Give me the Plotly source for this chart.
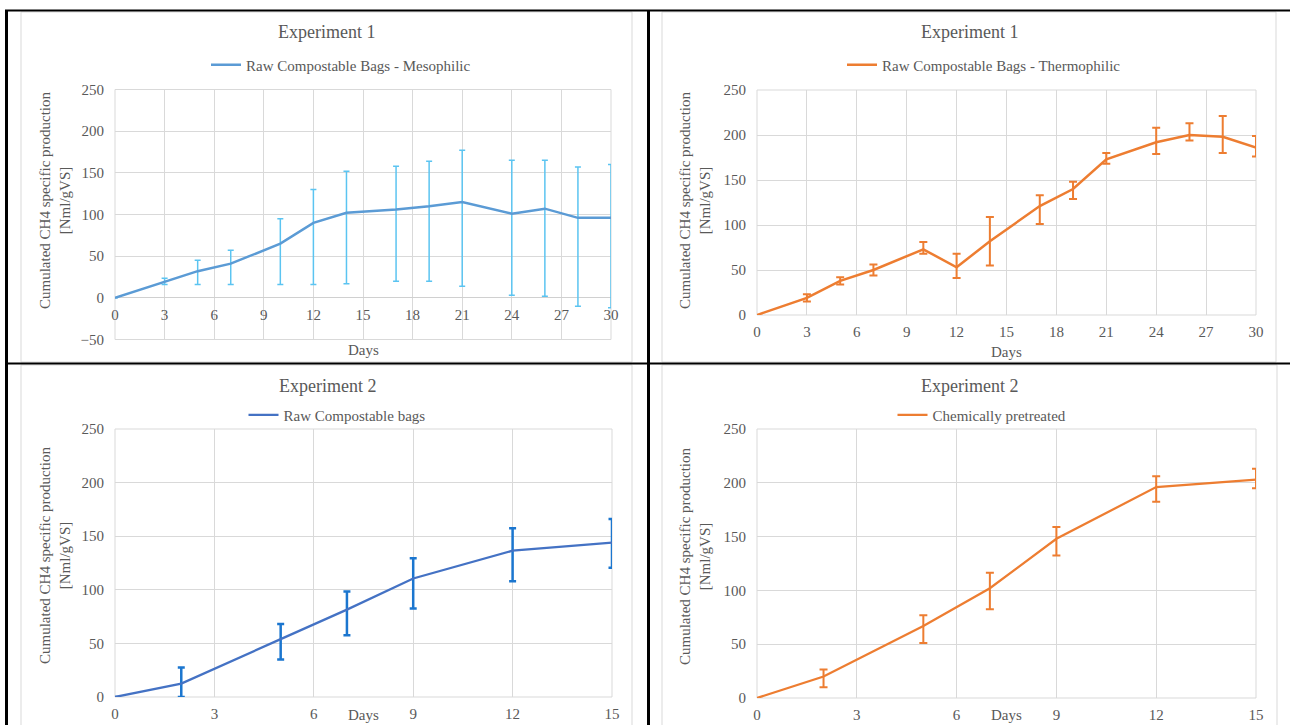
import plotly.graph_objects as go

W, H = 1290, 725
FONT = "Liberation Serif"
TXT = "#595959"
GRID = "#D9D9D9"

# ---------------- data ----------------
days_exp1 = [0, 3, 5, 7, 10, 12, 14, 17, 19, 21, 24, 26, 28, 30]
meso = [0, 19, 32, 41, 65, 90, 102, 106, 110, 115, 101, 107, 96, 96]
meso_err_plus = [0, 4.5, 13, 16, 30, 40, 50, 52, 54, 62, 64, 58, 61, 64]
meso_err_minus = [0, 3, 16, 25, 49, 74, 85, 86, 90, 101, 98, 105, 106, 108]

thermo = [0, 19, 38, 50, 73, 53, 82, 121, 140, 173, 192, 200, 198, 186]
thermo_err_plus = [0, 4, 4, 6, 8, 15, 27, 12, 8, 7, 16, 13, 23, 13]
thermo_err_minus = [0, 4, 4, 6, 5, 12, 27, 20, 11, 5, 13, 6, 18, 10]

days_exp2 = [0, 2, 5, 7, 9, 12, 15]
raw_bags = [0, 12.5, 54, 81.5, 110.5, 136.5, 144]
raw_err_plus = [0, 15, 14, 17, 19, 21, 22]
raw_err_minus = [0, 12.5, 19, 24, 28, 28.5, 23.5]

chem = [0, 20, 67, 102, 148, 196, 203]
chem_err_plus = [0, 6.5, 10, 14.5, 11, 10, 10]
chem_err_minus = [0, 10, 16, 19.5, 15.5, 13.5, 8]

titles = ["Experiment 1", "Experiment 1", "Experiment 2", "Experiment 2"]
series_names = ["Raw Compostable Bags - Mesophilic", "Raw Compostable Bags - Thermophilic",
                "Raw Compostable bags", "Chemically pretreated"]
y_title = "Cumulated CH4 specific production<br>[Nml/gVS]"
x_title = "Days"


def fx(px):
    return px / W


def fy(py):
    return 1 - py / H


fig = go.Figure()

# panel geometry in pixels: plot area left, right, top, bottom
panels = [
    dict(l=115, r=611, t=89.5, b=339.5, yr=[-50, 250], xr=[0, 30]),
    dict(l=757, r=1256, t=90, b=315, yr=[0, 250], xr=[0, 30]),
    dict(l=115, r=612, t=429, b=697, yr=[0, 250], xr=[0, 15]),
    dict(l=757, r=1256, t=429, b=698, yr=[0, 250], xr=[0, 15]),
]

traces = [
    (days_exp1, meso, meso_err_plus, meso_err_minus, "#5B9BD5", 2.5, "#5BC4F1", 1.5, 3),
    (days_exp1, thermo, thermo_err_plus, thermo_err_minus, "#ED7D31", 2.5, "#ED7D31", 2, 4),
    (days_exp2, raw_bags, raw_err_plus, raw_err_minus, "#4472C4", 2.25, "#1B76CF", 2.5, 3.5),
    (days_exp2, chem, chem_err_plus, chem_err_minus, "#ED7D31", 2.25, "#ED7D31", 2, 4),
]

tickfont = dict(family=FONT, size=15, color=TXT)
layout_axes = {}
for i, (p, tr) in enumerate(zip(panels, traces)):
    n = "" if i == 0 else str(i + 1)
    xs, ys, ep, em, lc, lw, ec, et, ew = tr
    fig.add_trace(go.Scatter(
        x=xs, y=ys, mode="lines", name=series_names[i],
        line=dict(color=lc, width=lw),
        error_y=dict(type="data", symmetric=False, array=ep, arrayminus=em,
                     color=ec, thickness=et, width=ew),
        xaxis="x" + n, yaxis="y" + n, legend="legend" + n,
        hoverinfo="x+y",
    ))
    xa = dict(domain=[fx(p["l"]), fx(p["r"])], range=p["xr"], dtick=3, tick0=0,
              showgrid=True, gridcolor=GRID, gridwidth=1, zeroline=False,
              showline=False, ticks="", tickfont=tickfont, ticklabelstandoff=6,
              fixedrange=True, automargin=False)
    ya = dict(domain=[fy(p["b"]), fy(p["t"])], range=p["yr"], dtick=50, tick0=0,
              showgrid=True, gridcolor=GRID, gridwidth=1, zeroline=False,
              showline=False, ticks="", tickfont=tickfont, ticklabelstandoff=10,
              anchor="x" + n, fixedrange=True, automargin=False)
    if i == 0:
        # Excel places category labels where the value axis crosses 0
        zero_px = p["b"] - (0 - p["yr"][0]) / (p["yr"][1] - p["yr"][0]) * (p["b"] - p["t"])
        xa.update(anchor="free", position=fy(zero_px))
        ya.update(zeroline=True, zerolinecolor="#D0D0D0", zerolinewidth=1)
    else:
        xa.update(anchor="y" + n)
    layout_axes["xaxis" + n] = xa
    layout_axes["yaxis" + n] = ya

fig.update_layout(**layout_axes)

# legends
legend_pos = [(341, 65), (984, 65), (337, 415), (982, 415)]
for i, (lx, ly) in enumerate(legend_pos):
    n = "" if i == 0 else str(i + 1)
    fig.update_layout(**{"legend" + n: dict(
        x=fx(lx), y=fy(ly), xanchor="center", yanchor="middle",
        orientation="h", font=dict(family=FONT, size=15, color=TXT),
        bgcolor="rgba(0,0,0,0)", itemclick=False, itemdoubleclick=False)})

annotations = []
title_pos = [(326, 32), (969, 32), (327, 386), (969, 386)]
ytitle_pos = [(55, 200), (695, 200), (55, 555), (695, 556)]
xtitle_pos = [(363, 350), (1006, 352), (363, 715), (1006, 715)]
for i in range(4):
    annotations.append(dict(text=titles[i], x=fx(title_pos[i][0]), y=fy(title_pos[i][1]),
                            xref="paper", yref="paper", showarrow=False,
                            xanchor="center", yanchor="middle",
                            font=dict(family=FONT, size=18, color=TXT)))
    annotations.append(dict(text=y_title, x=fx(ytitle_pos[i][0]), y=fy(ytitle_pos[i][1]),
                            xref="paper", yref="paper", showarrow=False, textangle=-90,
                            xanchor="center", yanchor="middle",
                            font=dict(family=FONT, size=15, color=TXT)))
    annotations.append(dict(text=x_title, x=fx(xtitle_pos[i][0]), y=fy(xtitle_pos[i][1]),
                            xref="paper", yref="paper", showarrow=False,
                            xanchor="center", yanchor="middle",
                            font=dict(family=FONT, size=15, color=TXT)))

shapes = []
# plot-area frames
for i in range(4):
    n = "" if i == 0 else str(i + 1)
    shapes.append(dict(type="rect", xref="x" + n + " domain", yref="y" + n + " domain",
                       x0=0, x1=1, y0=0, y1=1, line=dict(color=GRID, width=1), layer="below"))
# chart-area borders
for (x0, y0, x1, y1) in [(21, 12, 632, 362), (662, 12, 1276, 362),
                         (21, 365, 632, 740), (662, 365, 1277, 740)]:
    shapes.append(dict(type="rect", xref="paper", yref="paper",
                       x0=fx(x0), x1=fx(x1), y0=fy(y1), y1=fy(y0),
                       line=dict(color=GRID, width=1), layer="above"))
# black table lines
for (x0, y0, x1, y1, w) in [(5, 10.5, 1290, 10.5, 2), (5, 363.5, 1290, 363.5, 2),
                            (6.5, 10, 6.5, 725, 3), (648.5, 10, 648.5, 725, 3)]:
    shapes.append(dict(type="line", xref="paper", yref="paper",
                       x0=fx(x0), x1=fx(x1), y0=fy(y0), y1=fy(y1),
                       line=dict(color="black", width=w), layer="above"))

fig.update_layout(
    width=W, height=H, margin=dict(l=0, r=0, t=0, b=0, pad=0, autoexpand=False),
    paper_bgcolor="white", plot_bgcolor="white",
    annotations=annotations, shapes=shapes, showlegend=True,
)

# remove the default page margin so the 1290x725 figure fills the window exactly
fig.write_html(
    "out.html",
    config={"displayModeBar": False},
    post_script="document.body.style.margin='0';document.body.style.overflow='hidden';",
)
